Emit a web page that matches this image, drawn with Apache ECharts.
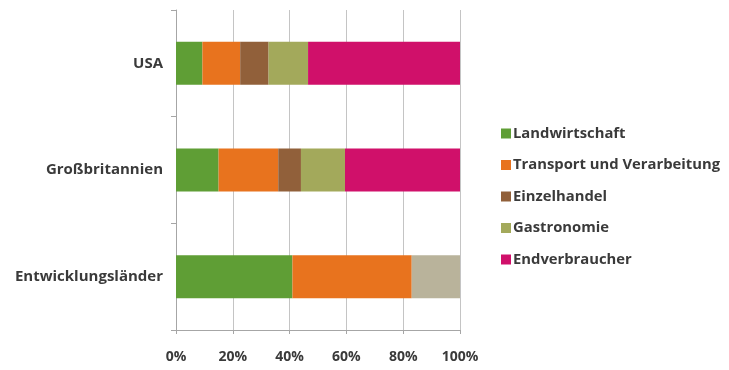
<!DOCTYPE html>
<html>
<head>
<meta charset="utf-8">
<script src="https://cdn.jsdelivr.net/npm/echarts@6/dist/echarts.min.js"></script>
<style>
  html, body { margin: 0; padding: 0; background: #fff; }
  #chart { width: 729px; height: 370px; }
</style>
</head>
<body>
<div id="chart"></div>
<script>
// Kategorien (von unten nach oben)
const regions = ['Entwicklungsländer', 'Großbritannien', 'USA'];
// Anteile in Prozent
const landwirtschaft = [41, 15, 9.3];
const transport = [42, 21, 13.3];
const einzelhandel = [0, 8, 10];
const gastronomie = [17, 15.5, 13.9];
const endverbraucher = [0, 40.5, 53.5];
const xTicks = [0, 20, 40, 60, 80, 100];

const font = '"Open Sans", Lato, sans-serif';

function serie(name, data, color) {
    return {
        name: name,
        type: 'bar',
        stack: 'all',
        barWidth: 43,
        data: data,
        itemStyle: { color: color },
        emphasis: { disabled: true }
    };
}

let gastroSerie = serie('Gastronomie', gastronomie, '#a3a95b');
// Entwicklungsländer: letzter Abschnitt ist gräulich
gastroSerie.data = gastronomie.map(function (v, i) {
    return i == 0 ? { value: v, itemStyle: { color: '#b9b39b' } } : v;
});

let myChart = echarts.init(document.getElementById('chart'));
let option = {
    animation: false,
    grid: { left: 176, right: 269, top: 10, bottom: 40, containLabel: false },
    legend: {
        orient: 'vertical',
        left: 496,
        top: 121,
        itemWidth: 10,
        itemHeight: 10,
        itemGap: 16.5,
        icon: 'rect',
        textStyle: { fontFamily: font, fontSize: 14.8, fontWeight: 'bold', color: '#3a3a3a', padding: [0, 0, 0, -3] },
        data: ['Landwirtschaft', 'Transport und Verarbeitung', 'Einzelhandel', 'Gastronomie', 'Endverbraucher']
    },
    xAxis: {
        type: 'value',
        min: 0,
        max: 100,
        interval: 20,
        axisLine: { show: true, lineStyle: { color: '#a6a6a6' } },
        axisTick: { show: true, length: 4, lineStyle: { color: '#a6a6a6' } },
        splitLine: { show: true, lineStyle: { color: '#c4c4c4', width: 1 } },
        axisLabel: {
            margin: 20,
            fontFamily: font, fontSize: 14, fontWeight: 'bold', color: '#3a3a3a',
            formatter: function (v) { return xTicks.indexOf(v) >= 0 ? v + '%' : ''; }
        }
    },
    yAxis: {
        type: 'category',
        data: regions,
        axisLine: { show: true, lineStyle: { color: '#a6a6a6' } },
        axisTick: { show: true, length: 5, lineStyle: { color: '#a6a6a6' } },
        axisLabel: { margin: 13, fontFamily: font, fontSize: 15, fontWeight: 'bold', color: '#3a3a3a' }
    },
    series: [
        serie('Landwirtschaft', landwirtschaft, '#5f9e35'),
        serie('Transport und Verarbeitung', transport, '#e8731e'),
        serie('Einzelhandel', einzelhandel, '#91603a'),
        gastroSerie,
        serie('Endverbraucher', endverbraucher, '#d0106a')
    ]
};
myChart.setOption(option);
</script>
</body>
</html>
